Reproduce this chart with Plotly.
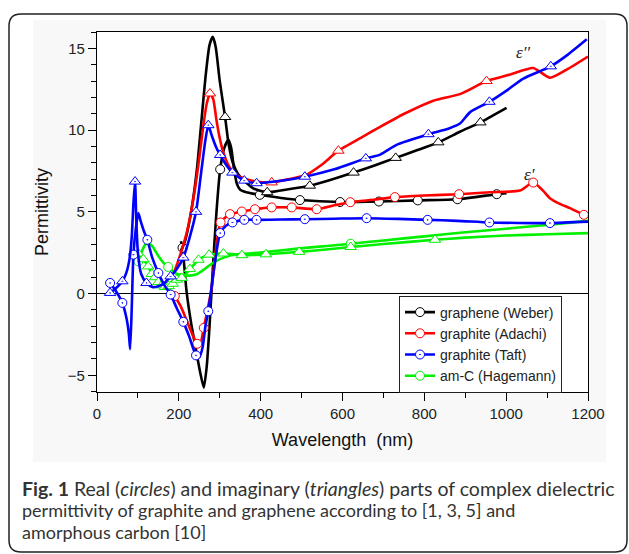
import plotly.graph_objects as go

# ---------------- data (wavelength in nm, permittivity) ----------------
# graphene (Weber) real part  (circles)
weber_re_x = [205, 209, 219, 230, 243, 252, 261, 268, 275, 283, 292, 301, 311, 321, 328, 335, 342, 350, 365, 398, 450, 496, 594, 689, 784, 881, 977, 1001]
weber_re_y = [3.2, 2.8, 0.1, -1.8, -3.6, -4.8, -5.75, -4.5, -2.0, 1.5, 5.0, 7.6, 8.9, 9.4, 8.9, 7.6, 6.7, 6.35, 6.2, 6.04, 5.85, 5.72, 5.6, 5.63, 5.7, 5.77, 6.08, 6.14]
weber_re_marks = [209, 301, 398, 496, 594, 689, 784, 881, 977]
# graphene (Weber) imaginary part (triangles)
weber_im_x = [205, 215, 225, 235, 245, 255, 265, 275, 283, 290, 300, 313, 322, 332, 345, 358, 382, 416, 472, 520, 570, 627, 680, 730, 780, 834, 887, 937, 968, 1001]
weber_im_y = [2.6, 3.2, 4.3, 5.8, 7.8, 10.5, 13.2, 15.2, 15.7, 15.1, 13.0, 10.8, 9.1, 8.0, 7.3, 6.95, 6.44, 6.2, 6.4, 6.6, 6.95, 7.4, 7.85, 8.3, 8.75, 9.25, 9.9, 10.47, 10.9, 11.36]
weber_im_marks = [313, 416, 520, 627, 730, 834, 937]

# graphite (Adachi)
adachi_re_x = [190, 205, 220, 235, 245, 252, 261, 270, 280, 290, 302, 325, 354, 386, 427, 476, 537, 580, 619, 680, 728, 800, 885, 960, 1034, 1066, 1090, 1107, 1130, 1156, 1190, 1200]
adachi_re_y = [-0.15, -0.8, -1.7, -2.6, -3.07, -3.1, -2.1, -1.0, 0.3, 2.6, 4.35, 4.86, 5.02, 5.16, 5.27, 5.27, 5.16, 5.4, 5.59, 5.75, 5.9, 6.0, 6.08, 6.2, 6.3, 6.79, 6.3, 5.83, 5.5, 5.23, 4.82, 4.72]
adachi_re_marks = [190, 245, 261, 302, 325, 354, 386, 427, 476, 537, 619, 728, 885, 1066, 1190]
adachi_im_x = [190, 200, 210, 220, 230, 240, 250, 260, 268, 276, 284, 292, 300, 309, 320, 333, 358, 390, 427, 470, 510, 550, 590, 650, 692, 751, 822, 887, 952, 1010, 1066, 1107, 1148, 1200]
adachi_im_y = [1.4, 2.1, 2.9, 3.8, 5.0, 6.5, 8.3, 10.3, 11.6, 12.24, 11.9, 10.6, 9.5, 8.6, 7.9, 7.4, 7.05, 6.85, 6.8, 7.0, 7.25, 7.9, 8.74, 9.6, 10.2, 11.0, 11.8, 12.2, 13.0, 13.4, 13.8, 13.2, 13.7, 14.5]
adachi_im_marks = [276, 427, 590, 952]

# graphite (Taft)
taft_re_x = [32, 45, 62, 72, 78, 81, 85, 89, 95, 101, 106, 115, 123, 135, 150, 165, 180, 195, 211, 225, 242, 250, 258, 265, 272, 285, 301, 315, 331, 360, 390, 450, 508, 580, 659, 735, 808, 880, 959, 1030, 1107, 1200]
taft_re_y = [0.65, 0.2, -0.57, -1.5, -2.5, -3.4, -0.8, 2.38, 4.0, 4.92, 4.5, 3.8, 3.29, 2.2, 1.26, 0.5, -0.06, -0.9, -1.73, -2.6, -3.78, -3.9, -3.3, -2.0, -1.08, 1.3, 3.7, 4.15, 4.35, 4.51, 4.51, 4.53, 4.55, 4.58, 4.61, 4.57, 4.51, 4.45, 4.35, 4.32, 4.31, 4.4]
taft_re_marks = [32, 62, 89, 123, 150, 180, 211, 242, 272, 301, 331, 360, 390, 508, 659, 808, 959, 1107]
taft_im_x = [32, 45, 62, 72, 80, 85, 89, 93, 96, 100, 108, 121, 135, 150, 165, 180, 195, 211, 225, 242, 255, 265, 272, 280, 292, 301, 313, 331, 360, 390, 450, 508, 580, 657, 692, 732, 810, 860, 887, 912, 959, 1000, 1042, 1109, 1150, 1197]
taft_im_y = [0.04, 0.3, 0.75, 1.3, 2.2, 3.5, 5.5, 6.85, 4.5, 2.5, 1.2, 0.65, 0.4, 0.45, 0.65, 1.05, 1.5, 2.2, 3.3, 5.0, 7.5, 9.4, 10.3, 9.7, 8.9, 8.48, 7.97, 7.4, 6.91, 6.75, 6.9, 7.15, 7.6, 8.27, 8.5, 9.1, 9.75, 10.1, 10.4, 11.1, 11.73, 12.4, 13.15, 13.9, 14.6, 15.55]
taft_im_marks = [32, 62, 93, 121, 180, 211, 242, 272, 301, 331, 360, 390, 508, 657, 810, 959, 1109]

# am-C (Hagemann)
hag_re_x = [101, 110, 118, 125, 135, 150, 162, 174, 185, 195, 210, 227, 245, 260, 276, 292, 310, 333, 370, 415, 490, 569, 620, 700, 800, 900, 1000, 1100, 1200]
hag_re_y = [1.97, 2.6, 3.0, 3.09, 2.9, 2.3, 1.9, 1.63, 1.4, 1.2, 1.12, 1.1, 1.2, 1.45, 1.75, 2.0, 2.2, 2.38, 2.45, 2.55, 2.75, 2.93, 3.05, 3.25, 3.5, 3.75, 3.97, 4.2, 4.45]
hag_re_marks = [101, 174, 620]
hag_im_x = [101, 107, 113, 119, 125, 130, 134, 138, 142, 146, 150, 154, 158, 162, 166, 170, 175, 180, 185, 190, 195, 201, 207, 217, 227, 238, 248, 260, 274, 290, 309, 330, 354, 380, 413, 450, 494, 560, 620, 700, 826, 900, 1000, 1100, 1200]
hag_im_y = [2.45, 2.3, 2.1, 1.9, 1.66, 1.4, 1.2, 1.1, 1.0, 0.85, 0.7, 0.6, 0.5, 0.45, 0.4, 0.42, 0.45, 0.5, 0.6, 0.72, 0.85, 0.92, 0.96, 1.2, 1.5, 1.8, 2.07, 2.25, 2.38, 2.43, 2.45, 2.42, 2.35, 2.36, 2.4, 2.47, 2.55, 2.7, 2.85, 3.03, 3.29, 3.42, 3.55, 3.63, 3.7]
hag_im_marks = [101, 113, 125, 134, 142, 150, 158, 166, 175, 185, 195, 207, 227, 248, 274, 309, 354, 413, 494, 620, 826]

legend_names = ["graphene (Weber)", "graphite (Adachi)", "graphite (Taft)", "am-C (Hagemann)"]
x_ticks = [0, 200, 400, 600, 800, 1000, 1200]
y_ticks = [-5, 0, 5, 10, 15]

# ---------------- styling ----------------
BLACK, RED, BLUE, GREEN = "#000000", "#ff0000", "#0000ff", "#00f000"
W, H = 629, 554
ML, MR, MT, MB = 97, 41, 32, 162
PW, PH = W - ML - MR, H - MT - MB
SANS = "Liberation Sans"

fig = go.Figure()

series = [
    (weber_re_x, weber_re_y, weber_re_marks, BLACK, "circle"),
    (weber_im_x, weber_im_y, weber_im_marks, BLACK, "triangle-up"),
    (adachi_re_x, adachi_re_y, adachi_re_marks, RED, "circle"),
    (adachi_im_x, adachi_im_y, adachi_im_marks, RED, "triangle-up"),
    (hag_re_x, hag_re_y, hag_re_marks, GREEN, "circle"),
    (hag_im_x, hag_im_y, hag_im_marks, GREEN, "triangle-up"),
    (taft_re_x, taft_re_y, taft_re_marks, BLUE, "circle-dot"),
    (taft_im_x, taft_im_y, taft_im_marks, BLUE, "triangle-up-dot"),
]
for xs, ys, marks, col, sym in series:
    op = [1 if x in marks else 0 for x in xs]
    size = 10 if sym.startswith("triangle") else 9
    fig.add_trace(go.Scatter(
        x=xs, y=ys, mode="lines+markers", showlegend=False, hoverinfo="skip",
        line=dict(color=col, width=2.6, shape="spline", smoothing=0.6),
        marker=dict(symbol=sym, size=size, color="white", opacity=op,
                    line=dict(color=col, width=1)),
    ))

for name, col, sym in zip(legend_names, [BLACK, RED, BLUE, GREEN],
                          ["circle", "circle", "circle-dot", "circle"]):
    fig.add_trace(go.Scatter(
        x=[None], y=[None], mode="lines+markers", name=name,
        line=dict(color=col, width=2.6),
        marker=dict(symbol=sym, size=9, color="white", line=dict(color=col, width=1)),
    ))


def P(x, y):
    return f"{(x - ML) / PW:.5f},{(H - MB - y) / PH:.5f}"


def rounded(x0, y0, x1, y1, r):
    return (f"M{P(x0 + r, y0)} L{P(x1 - r, y0)} Q{P(x1, y0)} {P(x1, y0 + r)} "
            f"L{P(x1, y1 - r)} Q{P(x1, y1)} {P(x1 - r, y1)} L{P(x0 + r, y1)} "
            f"Q{P(x0, y1)} {P(x0, y1 - r)} L{P(x0, y0 + r)} Q{P(x0, y0)} {P(x0 + r, y0)} Z")


shapes = [
    dict(type="rect", xref="paper", yref="paper", layer="below",
         x0=(33 - ML) / PW, x1=(606 - ML) / PW, y0=(H - MB - 462) / PH, y1=(H - MB - 20) / PH,
         fillcolor="#f8f8f8", line=dict(width=0)),
    dict(type="rect", xref="paper", yref="paper", layer="below",
         x0=0, x1=1, y0=0, y1=1, fillcolor="white", line=dict(width=0)),
    dict(type="path", xref="paper", yref="paper", path=rounded(9, 14, 627, 552, 12),
         line=dict(color="#222222", width=1.5)),
]

cap1 = dict(family="Lato, 'Open Sans', sans-serif", size=19.5, color="#333333")
cap2 = dict(family="Lato, 'Open Sans', sans-serif", size=18, color="#333333")
eps_font = dict(family="Liberation Serif, serif", size=17, color="#222")
annotations = [
    dict(x=1041, y=14.75, xref="x", yref="y", text="<i>ε''</i>", showarrow=False, font=eps_font),
    dict(x=1058, y=7.3, xref="x", yref="y", text="<i>ε'</i>", showarrow=False, font=eps_font),
    dict(x=(20 - ML) / PW, y=(H - MB - 488) / PH, xref="paper", yref="paper",
         xanchor="left", yanchor="middle", showarrow=False, font=cap1,
         text="<b>Fig. 1</b> Real (<i>circles</i>) and imaginary (<i>triangles</i>) parts of complex dielectric"),
    dict(x=(20 - ML) / PW, y=(H - MB - 510) / PH, xref="paper", yref="paper",
         xanchor="left", yanchor="middle", showarrow=False, font=cap2,
         text="permittivity of graphite and graphene according to [1, 3, 5] and"),
    dict(x=(20 - ML) / PW, y=(H - MB - 532) / PH, xref="paper", yref="paper",
         xanchor="left", yanchor="middle", showarrow=False, font=cap2,
         text="amorphous carbon [10]"),
]

axis_font = dict(family=SANS, size=15, color="#222")
fig.update_layout(
    width=W, height=H, margin=dict(l=ML, r=MR, t=MT, b=MB, autoexpand=False),
    paper_bgcolor="white", plot_bgcolor="rgba(0,0,0,0)",
    font=dict(family=SANS, color="#222"),
    shapes=shapes, annotations=annotations,
    legend=dict(x=(399 - ML) / PW, y=(H - MB - 344) / PH, xanchor="left", yanchor="middle",
                bgcolor="white", bordercolor="#222", borderwidth=1,
                font=dict(family=SANS, size=14, color="#222"),
                tracegroupgap=0, itemwidth=30, entrywidth=128, entrywidthmode="pixels"),
    xaxis=dict(range=[0, 1200], tickvals=x_ticks, ticks="outside", ticklen=8, tickwidth=1.2,
               tickcolor="black", showline=True, linecolor="black", linewidth=1.2, mirror=True,
               showgrid=False, zeroline=False, tickfont=axis_font,
               minor=dict(dtick=100, tick0=0, ticks="outside", ticklen=5, tickwidth=1.2,
                          tickcolor="black", showgrid=False),
               title=dict(text="Wavelength  (nm)", standoff=12,
                          font=dict(family=SANS, size=18, color="#111"))),
    yaxis=dict(range=[-6.02, 16], tickvals=y_ticks, ticks="outside", ticklen=8, tickwidth=1.2,
               tickcolor="black", showline=True, linecolor="black", linewidth=1.2, mirror=True,
               showgrid=False, zeroline=True, zerolinecolor="black", zerolinewidth=1,
               tickfont=axis_font,
               minor=dict(dtick=1, tick0=0, ticks="outside", ticklen=5, tickwidth=1.2,
                          tickcolor="black", showgrid=False),
               title=dict(text="Permittivity", standoff=14,
                          font=dict(family=SANS, size=18, color="#111"))),
)

fig.write_html("out.html", config={"displayModeBar": False},
               post_script="document.body.style.margin='0';")
